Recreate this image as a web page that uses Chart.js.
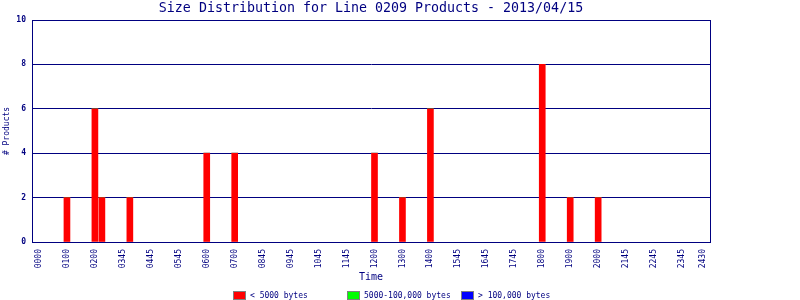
<!DOCTYPE html>
<html>
<head>
<meta charset="utf-8">
<script src="https://cdn.jsdelivr.net/npm/chart.js@4/dist/chart.umd.min.js"></script>
<style>
  html, body { margin: 0; padding: 0; background: #fff; }
  #wrap { width: 800px; height: 300px; }
</style>
</head>
<body>
<div id="wrap"><canvas id="sizeChart"></canvas></div>
<script>
// x positions are 15 minute slots from the start of the day
const barSlots = [4, 8, 9, 13, 24, 28, 48, 52, 56, 72, 76, 80];
const smallValues = [2, 6, 2, 2, 4, 4, 4, 2, 6, 8, 2, 2];      // < 5000 bytes
const mediumValues = [0, 0, 0, 0, 0, 0, 0, 0, 0, 0, 0, 0];     // 5000-100,000 bytes
const largeValues = [0, 0, 0, 0, 0, 0, 0, 0, 0, 0, 0, 0];      // > 100,000 bytes

const tickSlots = [0, 4, 8, 12, 16, 20, 24, 28, 32, 36, 40, 44, 48, 52, 56, 60, 64, 68, 72, 76, 80, 84, 88, 92, 95];
const tickLabels = ["0000", "0100", "0200", "0345", "0445", "0545", "0600", "0700", "0845", "0945", "1045", "1145",
    "1200", "1300", "1400", "1545", "1645", "1745", "1800", "1900", "2000", "2145", "2245", "2345", "2430"];

const seriesNames = ["< 5000 bytes", "5000-100,000 bytes", "> 100,000 bytes"];
const seriesColors = ["#ff0000", "#00ff00", "#0000ff"];

const navy = "#000080";
const mono = "'DejaVu Sans Mono', monospace";

const toPoints = (vals) => barSlots.map((s, i) => ({ x: s, y: vals[i] }));

// title, axis titles, frame and legend drawn by hand
const decorations = {
    id: "decorations",
    afterDraw(chart) {
        const { ctx, chartArea: a } = chart;
        const mid = (a.left + a.right) / 2;
        ctx.save();
        ctx.strokeStyle = navy;
        ctx.lineWidth = 1;
        ctx.strokeRect(a.left + 0.5, a.top + 0.5, a.right - a.left, a.bottom - a.top);

        ctx.fillStyle = navy;
        ctx.textAlign = "center";
        ctx.textBaseline = "middle";
        ctx.font = "13.3px " + mono;
        ctx.fillText("Size Distribution for Line 0209 Products - 2013/04/15", mid, 9);

        ctx.font = "10px " + mono;
        ctx.fillText("Time", mid, 277);

        ctx.save();
        ctx.translate(7, (a.top + a.bottom) / 2);
        ctx.rotate(-Math.PI / 2);
        ctx.font = "8px " + mono;
        ctx.fillText("# Products", 0, 0);
        ctx.restore();

        // legend
        ctx.textAlign = "left";
        ctx.font = "8px " + mono;
        seriesNames.forEach((name, i) => {
            const x = 233 + i * 114;
            ctx.fillStyle = seriesColors[i];
            ctx.fillRect(x, 291, 13, 9);
            ctx.strokeStyle = "#808080";
            ctx.strokeRect(x + 0.5, 291.5, 12, 8);
            ctx.fillStyle = navy;
            ctx.fillText(name, x + 17, 295.5);
        });
        ctx.restore();
    }
};

new Chart(document.getElementById("sizeChart"), {
    type: "bar",
    data: {
        datasets: [
            { label: seriesNames[0], data: toPoints(smallValues), backgroundColor: seriesColors[0] },
            { label: seriesNames[1], data: toPoints(mediumValues), backgroundColor: seriesColors[1] },
            { label: seriesNames[2], data: toPoints(largeValues), backgroundColor: seriesColors[2] },
        ],
    },
    options: {
        responsive: true,
        maintainAspectRatio: false,
        animation: false,
        barThickness: 6,
        layout: { padding: { top: 20, right: 90, left: 0, bottom: 0 } },
        plugins: {
            legend: { display: false },
            title: { display: false },
            tooltip: { enabled: false },
        },
        scales: {
            x: {
                type: "linear",
                stacked: true,
                offset: false,
                min: -1,
                max: 96,
                grid: { display: false, drawTicks: false, offset: false },
                border: { color: navy, width: 1 },
                afterBuildTicks: (s) => { s.ticks = tickSlots.map((v) => ({ value: v })); },
                afterFit: (s) => { s.height = 58; },
                ticks: {
                    autoSkip: false,
                    minRotation: 90,
                    maxRotation: 90,
                    padding: 7,
                    color: navy,
                    font: { family: mono, size: 8 },
                    callback: (v) => tickLabels[tickSlots.indexOf(v)],
                },
            },
            y: {
                stacked: true,
                min: 0,
                max: 10,
                grid: { color: navy, drawTicks: false },
                border: { color: navy, width: 1 },
                afterFit: (s) => { s.width = 32; },
                ticks: {
                    stepSize: 2,
                    padding: 6,
                    color: navy,
                    font: { family: mono, size: 8, weight: "bold" },
                },
            },
        },
    },
    plugins: [decorations],
});
</script>
</body>
</html>
